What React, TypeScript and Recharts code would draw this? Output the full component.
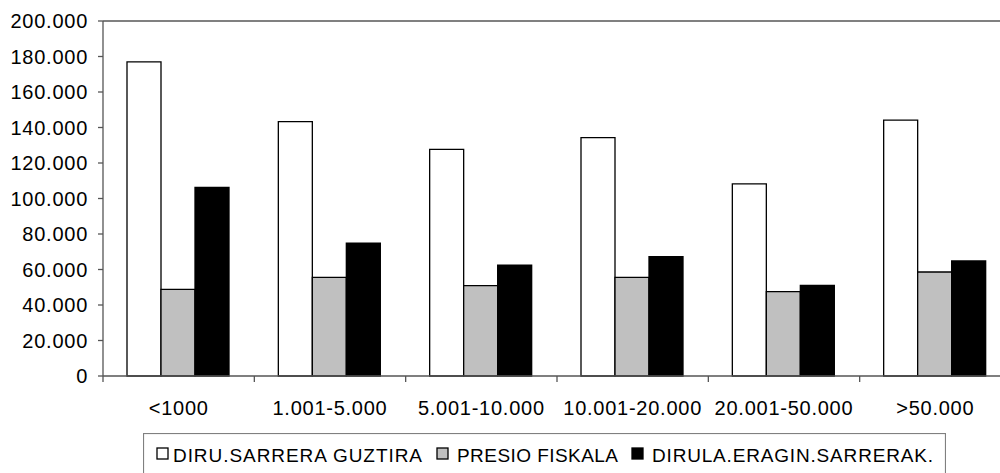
import React from 'react';
import { BarChart, Bar, XAxis, YAxis, Legend, ReferenceLine } from 'recharts';

const categories = ['<1000', '1.001-5.000', '5.001-10.000', '10.001-20.000', '20.001-50.000', '>50.000'];
const diruSarreraGuztira = [177000, 143300, 127700, 134300, 108200, 144200];
const presioFiskala = [48800, 55600, 50900, 55600, 47500, 58600];
const dirulaEraginSarrerak = [106300, 74800, 62400, 67200, 51100, 64800];
const yTicks = [0, 20000, 40000, 60000, 80000, 100000, 120000, 140000, 160000, 180000, 200000];

const seriesNames = ['DIRU.SARRERA GUZTIRA', 'PRESIO FISKALA', 'DIRULA.ERAGIN.SARRERAK.'];
const seriesColors = ['#ffffff', '#c0c0c0', '#000000'];

const FONT = '"Liberation Sans", Arial, sans-serif';
const AXIS = '#555555';

const data = categories.map((cat, i) => ({
    cat,
    a: diruSarreraGuztira[i],
    b: presioFiskala[i],
    c: dirulaEraginSarrerak[i]
}));

// 20000 -> "20.000"
const fmt = (v: number) => String(v).replace(/\B(?=(\d{3})+(?!\d))/g, '.');

function YTick(props: any) {
    const { x, y, payload } = props;
    return (
        <text x={x} y={y} dy="0.36em" textAnchor="end" fill="#000" fontSize={20}
            fontFamily={FONT} style={{ letterSpacing: '0.75px' }}>
            {fmt(payload.value)}
        </text>
    );
}

function XTick(props: any) {
    const { x, y, payload } = props;
    const off = payload.offset || 0;
    return (
        <g>
            <line x1={x - off} y1={y} x2={x - off} y2={y + 6} stroke={AXIS} strokeWidth={1.3} />
            <text x={x} y={y + 39} textAnchor="middle" fill="#000" fontSize={20}
                fontFamily={FONT} style={{ letterSpacing: '0.75px' }}>
                {payload.value}
            </text>
        </g>
    );
}

// legend item layout (relative to the legend box)
const legendSquares = [14, 294, 489];
const legendText = [[30, 249], [314, 161], [509, 281]];

function LegendBox() {
    return (
        <svg width={803} height={50} style={{ display: 'block' }}>
            <rect x={0.5} y={0.5} width={802} height={70} fill="#fff" stroke="#808080" strokeWidth={1.2} />
            {seriesNames.map((name, i) => (
                <g key={name}>
                    <rect x={legendSquares[i]} y={15} width={11} height={11}
                        fill={seriesColors[i]} stroke="#000" strokeWidth={1.3} />
                    <text x={legendText[i][0]} y={28.5} textLength={legendText[i][1]} lengthAdjust="spacing"
                        fontSize={19} fontFamily={FONT} fill="#000">
                        {name}
                    </text>
                </g>
            ))}
        </svg>
    );
}

export default function App() {
    return (
        <div style={{ position: 'absolute', left: 0, top: 0, width: 1000, height: 473, overflow: 'hidden', background: '#fff' }}>
            <BarChart
                width={1011}
                height={473}
                data={data}
                margin={{ top: 21, right: 0, left: 0, bottom: 57 }}
                barCategoryGap={24}
                barGap={0}
            >
                <XAxis
                    dataKey="cat"
                    height={40}
                    tickLine={false}
                    tickSize={0}
                    tickMargin={0}
                    axisLine={{ stroke: AXIS, strokeWidth: 1.3 }}
                    tick={<XTick />}
                    interval={0}
                />
                <YAxis
                    width={103}
                    domain={[0, 200000]}
                    ticks={yTicks}
                    interval={0}
                    tickSize={5}
                    tickMargin={10}
                    tickLine={{ stroke: AXIS, strokeWidth: 1.3 }}
                    axisLine={{ stroke: AXIS, strokeWidth: 1.3 }}
                    tick={<YTick />}
                />
                <ReferenceLine y={200000} stroke="#808080" strokeWidth={2} />
                <Legend
                    layout="horizontal"
                    verticalAlign="middle"
                    align="center"
                    wrapperStyle={{ top: 433, left: 143, width: 803, height: 50 }}
                    content={() => <LegendBox />}
                />
                <Bar dataKey="a" name={seriesNames[0]} fill={seriesColors[0]} stroke="#000" strokeWidth={1.3} isAnimationActive={false} />
                <Bar dataKey="b" name={seriesNames[1]} fill={seriesColors[1]} stroke="#000" strokeWidth={1.3} isAnimationActive={false} />
                <Bar dataKey="c" name={seriesNames[2]} fill={seriesColors[2]} stroke="#000" strokeWidth={1.3} isAnimationActive={false} />
            </BarChart>
        </div>
    );
}
